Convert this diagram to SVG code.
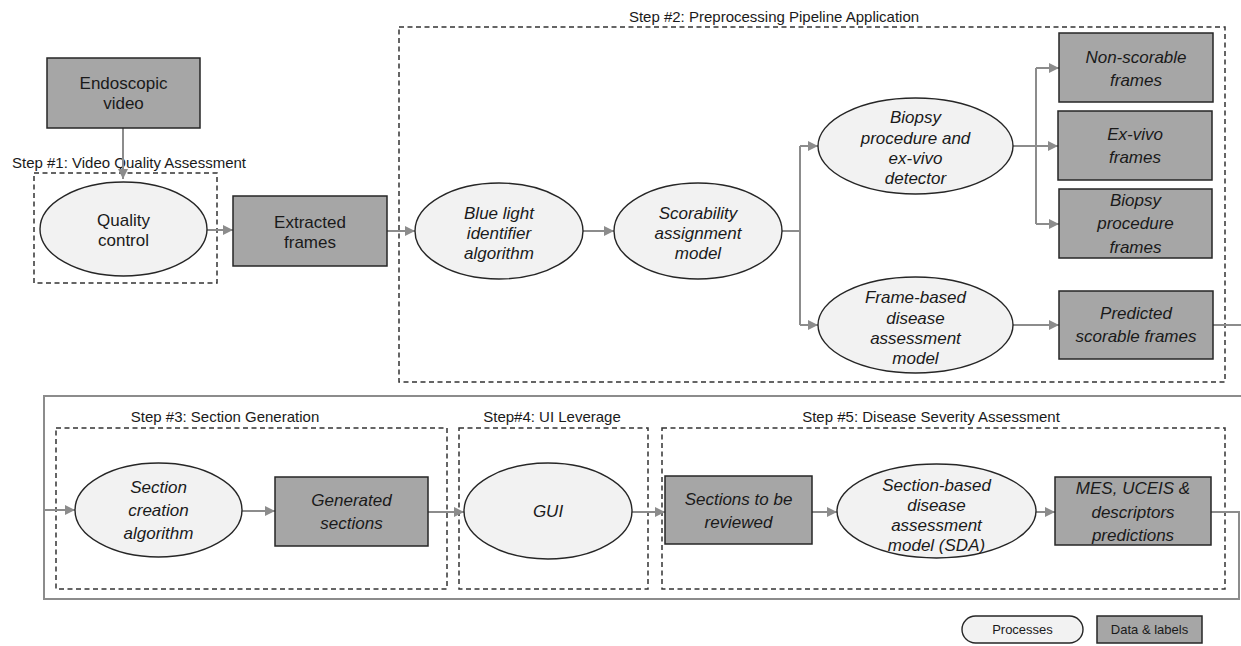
<svg xmlns="http://www.w3.org/2000/svg" width="1241" height="646" viewBox="0 0 1241 646">
<defs>
<marker id="ah" viewBox="0 0 10 10" refX="10" refY="5" markerWidth="5" markerHeight="5" orient="auto" markerUnits="strokeWidth">
<path d="M0,0 L10,5 L0,10 z" fill="#8c8c8c"/>
</marker>
<style>
.box{fill:#a6a6a6;stroke:#262626;stroke-width:1.5}
.proc{fill:#f2f2f2;stroke:#262626;stroke-width:1.4}
.step{fill:none;stroke:#333;stroke-width:1.5;stroke-dasharray:5 3.5}
.t{font-family:"Liberation Sans",Arial,sans-serif;font-size:17px;fill:#1a1a1a;text-anchor:middle}
.i{font-style:italic}
.lbl{font-family:"Liberation Sans",Arial,sans-serif;font-size:15px;fill:#1a1a1a}
.leg{font-family:"Liberation Sans",Arial,sans-serif;font-size:13px;fill:#1a1a1a;text-anchor:middle}
.c{fill:none;stroke:#8c8c8c;stroke-width:2}
.a{fill:none;stroke:#8c8c8c;stroke-width:2;marker-end:url(#ah)}
</style>
</defs>

<g id="steps">
<rect class="step" x="34" y="173" width="183" height="110"/>
<text class="lbl" x="12" y="168">Step #1: Video Quality Assessment</text>
<rect class="step" x="399" y="27" width="826" height="355"/>
<text class="lbl" x="774" y="22" text-anchor="middle">Step #2: Preprocessing Pipeline Application</text>
<rect class="step" x="56" y="428" width="391" height="161"/>
<text class="lbl" x="225" y="422" text-anchor="middle">Step #3: Section Generation</text>
<rect class="step" x="459" y="428" width="189" height="161"/>
<text class="lbl" x="552" y="422" text-anchor="middle">Step#4: UI Leverage</text>
<rect class="step" x="662" y="428" width="563" height="161"/>
<text class="lbl" x="931" y="422" text-anchor="middle">Step #5: Disease Severity Assessment</text>
</g>

<g id="connectors">
<path class="a" d="M123 128 V179"/>
<path class="a" d="M207 230 H233"/>
<path class="a" d="M387 231 H415"/>
<path class="a" d="M583 231 H614"/>
<path class="c" d="M782 231 H800 M800 146 V325"/>
<path class="a" d="M800 146 H818"/>
<path class="a" d="M800 325 H818"/>
<path class="c" d="M1013 146 H1036 M1036 68 V224"/>
<path class="a" d="M1036 68 H1059"/>
<path class="a" d="M1036 146 H1058"/>
<path class="a" d="M1036 224 H1059"/>
<path class="a" d="M1013 325 H1059"/>
<path class="c" d="M1213 325 H1241"/>
<path class="a" d="M1241 396 H44 V510 H75"/>
<path class="c" d="M1211 512 H1239 V599 H44 V510"/>
<path class="a" d="M242 511 H275"/>
<path class="a" d="M428 512 H464"/>
<path class="a" d="M632 512 H665"/>
<path class="a" d="M812 512 H837"/>
<path class="a" d="M1036 512 H1055"/>
</g>

<g id="endoscopic-video">
<rect class="box" x="47" y="58" width="153" height="70"/>
<text class="t" x="123.5" y="89">Endoscopic</text>
<text class="t" x="123.5" y="109">video</text>
</g>
<g id="quality-control">
<ellipse class="proc" cx="123.5" cy="229" rx="83.5" ry="47"/>
<text class="t" x="123.5" y="226">Quality</text>
<text class="t" x="123.5" y="246">control</text>
</g>
<g id="extracted-frames">
<rect class="box" x="233" y="196" width="154" height="70"/>
<text class="t" x="310" y="228">Extracted</text>
<text class="t" x="310" y="248">frames</text>
</g>
<g id="blue-light">
<ellipse class="proc" cx="499" cy="231" rx="84" ry="48"/>
<text class="t i" x="499" y="219">Blue light</text>
<text class="t i" x="499" y="239">identifier</text>
<text class="t i" x="499" y="259">algorithm</text>
</g>
<g id="scorability">
<ellipse class="proc" cx="698" cy="231" rx="84" ry="48"/>
<text class="t i" x="698" y="219">Scorability</text>
<text class="t i" x="698" y="239">assignment</text>
<text class="t i" x="698" y="259">model</text>
</g>
<g id="biopsy-detector">
<ellipse class="proc" cx="915.5" cy="146" rx="97.5" ry="48"/>
<text class="t i" x="915.5" y="123">Biopsy</text>
<text class="t i" x="915.5" y="143.5">procedure and</text>
<text class="t i" x="915.5" y="164">ex-vivo</text>
<text class="t i" x="915.5" y="184">detector</text>
</g>
<g id="frame-based">
<ellipse class="proc" cx="915.5" cy="325" rx="97.5" ry="48"/>
<text class="t i" x="915.5" y="303">Frame-based</text>
<text class="t i" x="915.5" y="323.5">disease</text>
<text class="t i" x="915.5" y="344">assessment</text>
<text class="t i" x="915.5" y="364">model</text>
</g>
<g id="non-scorable">
<rect class="box" x="1059" y="33" width="154" height="69"/>
<text class="t i" x="1136" y="63">Non-scorable</text>
<text class="t i" x="1136" y="86">frames</text>
</g>
<g id="ex-vivo">
<rect class="box" x="1058" y="111" width="154" height="69"/>
<text class="t i" x="1135" y="140">Ex-vivo</text>
<text class="t i" x="1135" y="163">frames</text>
</g>
<g id="biopsy-frames">
<rect class="box" x="1059" y="189" width="153" height="69"/>
<text class="t i" x="1135.5" y="206">Biopsy</text>
<text class="t i" x="1135.5" y="229">procedure</text>
<text class="t i" x="1135.5" y="253">frames</text>
</g>
<g id="predicted">
<rect class="box" x="1059" y="291" width="154" height="68"/>
<text class="t i" x="1136" y="319">Predicted</text>
<text class="t i" x="1136" y="342">scorable frames</text>
</g>
<g id="section-creation">
<ellipse class="proc" cx="158.5" cy="510" rx="83.5" ry="47"/>
<text class="t i" x="158.5" y="493">Section</text>
<text class="t i" x="158.5" y="516">creation</text>
<text class="t i" x="158.5" y="539">algorithm</text>
</g>
<g id="generated-sections">
<rect class="box" x="275" y="477" width="153" height="69"/>
<text class="t i" x="351.5" y="506">Generated</text>
<text class="t i" x="351.5" y="529">sections</text>
</g>
<g id="gui">
<ellipse class="proc" cx="548" cy="511" rx="84" ry="48"/>
<text class="t i" x="548" y="517">GUI</text>
</g>
<g id="sections-reviewed">
<rect class="box" x="665" y="476" width="147" height="68"/>
<text class="t i" x="738.5" y="505">Sections to be</text>
<text class="t i" x="738.5" y="528">reviewed</text>
</g>
<g id="section-based">
<ellipse class="proc" cx="936.5" cy="511" rx="99.5" ry="47"/>
<text class="t i" x="936.5" y="491">Section-based</text>
<text class="t i" x="936.5" y="511">disease</text>
<text class="t i" x="936.5" y="531">assessment</text>
<text class="t i" x="936.5" y="551">model (SDA)</text>
</g>
<g id="mes-predictions">
<rect class="box" x="1055" y="477" width="156" height="68"/>
<text class="t i" x="1133" y="494">MES, UCEIS &amp;</text>
<text class="t i" x="1133" y="518">descriptors</text>
<text class="t i" x="1133" y="541">predictions</text>
</g>

<g id="legend-processes">
<rect class="proc" x="962" y="616" width="121" height="27" rx="13.5" ry="13.5"/>
<text class="leg" x="1022.5" y="634">Processes</text>
</g>
<g id="legend-data">
<rect class="box" x="1097" y="616" width="105" height="27"/>
<text class="leg" x="1149.5" y="634">Data &amp; labels</text>
</g>
</svg>
